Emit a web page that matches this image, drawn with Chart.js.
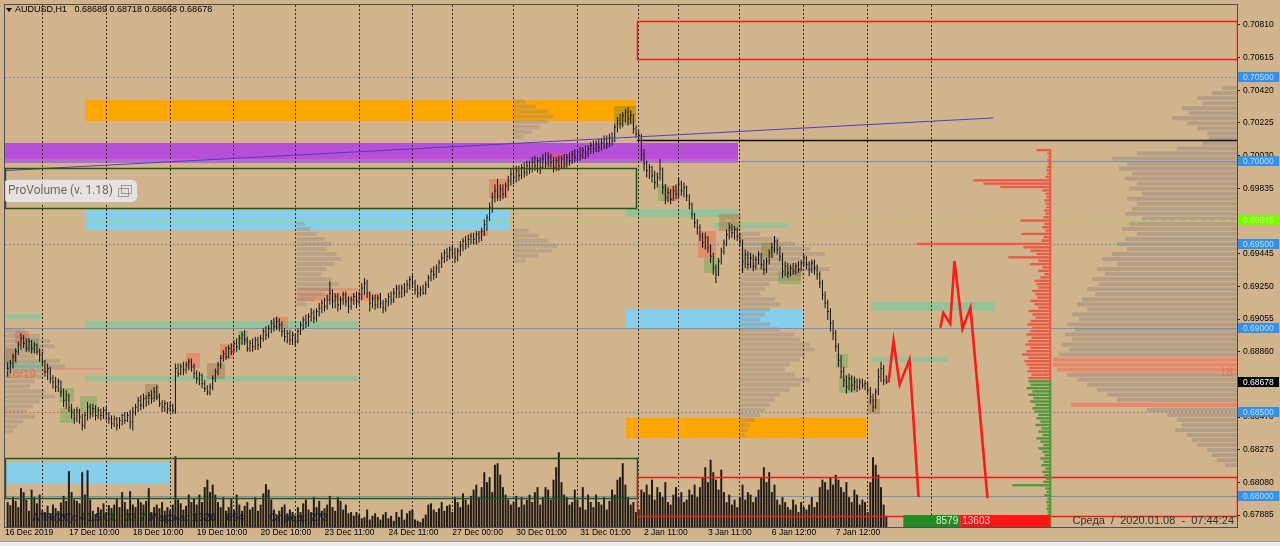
<!DOCTYPE html>
<html>
<head>
<meta charset="utf-8">
<script src="https://cdn.jsdelivr.net/npm/chart.js@4.4.1/dist/chart.umd.min.js"></script>
<style>
  html, body { margin:0; padding:0; background:#D2B48C; overflow:hidden; }
  canvas { display:block; }
</style>
</head>
<body>
<canvas id="chart" width="1280" height="546"></canvas>
<script>
// ===== DATA (prices in pips: 6866 = 0.68660) =====
const symbolTitle = 'AUDUSD,H1';
const lastOpen = 6868.9;

const closes = [
6876,6879,6883,6886,6890,6894,6891,6888,6892,6888,
6890,6886,6884,6880,6874,6876,6870,6868,6865,6868,
6862,6857,6860,6853,6850,6846,6851,6847,6842,6848,
6853,6849,6852,6848,6851,6848,6851,6849,6846,6843,
6846,6842,6845,6848,6845,6848,6844,6850,6853,6857,
6854,6858,6856,6860,6858,6862,6859,6855,6853,6855,
6852,6854,6851,6876,6873,6877,6875,6878,6880,6877,
6873,6870,6872,6867,6864,6862,6865,6870,6874,6878,
6882,6885,6883,6888,6886,6891,6889,6894,6896,6893,
6888,6891,6889,6893,6890,6894,6898,6896,6900,6903,
6901,6904,6902,6898,6895,6897,6893,6896,6892,6898,
6902,6905,6903,6907,6909,6906,6910,6912,6915,6913,
6917,6921,6916,6919,6914,6917,6920,6916,6913,6917,
6919,6916,6920,6924,6927,6921,6915,6918,6914,6918,
6915,6912,6916,6919,6917,6921,6924,6921,6924,6922,
6926,6929,6927,6923,6921,6923,6921,6926,6930,6934,
6932,6936,6939,6942,6945,6943,6947,6945,6942,6946,
6949,6952,6950,6953,6955,6953,6956,6954,6958,6962,
6966,6972,6978,6982,6979,6983,6980,6985,6988,6992,
6990,6994,6991,6996,6993,6997,6995,6999,6997,7000,
6996,7001,6998,7002,6999,6996,7000,6997,7001,6998,
7002,7000,7004,7002,7005,7003,7006,7004,7007,7009,
7007,7010,7008,7011,7013,7010,7014,7012,7020,7024,
7022,7027,7029,7025,7027,7019,7016,7015,7004,6998,
6994,6996,6991,6987,6990,6995,6984,6978,6981,6977,
6982,6980,6986,6982,6984,6979,6974,6968,6963,6960,
6955,6951,6954,6948,6943,6936,6932,6940,6946,6951,
6956,6960,6957,6959,6955,6952,6940,6944,6938,6942,
6937,6941,6944,6938,6935,6940,6945,6948,6952,6947,
6943,6934,6937,6933,6936,6934,6937,6935,6939,6942,
6938,6935,6939,6936,6932,6927,6920,6915,6910,6903,
6897,6889,6881,6874,6869,6865,6870,6866,6868,6865,
6868,6866,6867,6863,6859,6853,6862,6871,6876,6869,
6867.8];

const highs = [
6880,6881,6885,6888,6892,6897,6896,6894,6894,6893,
6892,6891,6888,6886,6881,6879,6877,6872,6871,6870,
6869,6864,6863,6861,6855,6852,6853,6852,6849,6850,
6856,6855,6855,6854,6853,6852,6853,6853,6850,6848,
6848,6847,6847,6849,6850,6850,6851,6853,6855,6859,
6860,6861,6860,6862,6863,6865,6866,6861,6857,6857,
6856,6856,6855,6879,6879,6879,6880,6880,6882,6882,
6879,6875,6874,6873,6869,6866,6867,6872,6876,6880,
6884,6887,6889,6890,6891,6893,6894,6896,6898,6899,
6895,6893,6894,6895,6895,6896,6900,6901,6902,6905,
6906,6907,6906,6904,6900,6899,6899,6898,6897,6900,
6904,6907,6908,6909,6912,6911,6912,6915,6917,6918,
6920,6928,6923,6921,6921,6919,6922,6922,6919,6919,
6921,6922,6922,6927,6930,6929,6922,6920,6920,6920,
6921,6917,6918,6921,6922,6924,6926,6926,6926,6927,
6929,6931,6932,6929,6926,6925,6926,6928,6932,6936,
6937,6938,6941,6945,6947,6948,6949,6950,6948,6948,
6952,6954,6955,6956,6957,6957,6958,6958,6960,6965,
6968,6975,6981,6986,6989,6986,6986,6987,6991,6995,
6996,6997,6997,6998,6999,7000,7000,7002,7003,7002,
7002,7004,7005,7005,7004,7002,7002,7003,7003,7004,
7004,7005,7006,7007,7007,7008,7008,7009,7009,7011,
7012,7012,7013,7013,7015,7015,7016,7017,7022,7026,
7028,7029,7031,7032,7030,7028,7021,7018,7016,7007,
7000,6998,6997,6994,6993,7001,6996,6986,6984,6983,
6985,6986,6990,6988,6987,6985,6980,6975,6969,6965,
6962,6957,6957,6955,6950,6945,6938,6942,6948,6953,
6959,6963,6962,6961,6960,6957,6953,6947,6946,6945,
6944,6943,6946,6945,6941,6942,6947,6951,6955,6953,
6949,6945,6940,6939,6938,6939,6939,6940,6941,6944,
6943,6940,6941,6941,6938,6934,6929,6922,6917,6912,
6905,6899,6891,6884,6877,6872,6873,6872,6871,6870,
6870,6870,6869,6868,6865,6861,6864,6876,6880,6878,
6871.8];

const lows = [
6871,6873,6876,6880,6884,6887,6888,6886,6886,6885,
6885,6884,6880,6878,6871,6869,6867,6864,6862,6862,
6859,6853,6852,6850,6846,6843,6844,6843,6839,6840,
6845,6846,6847,6845,6846,6845,6846,6845,6843,6840,
6841,6839,6840,6842,6843,6844,6840,6839,6848,6850,
6851,6852,6853,6854,6855,6856,6857,6853,6850,6850,
6849,6850,6849,6849,6871,6872,6872,6873,6875,6874,
6870,6867,6866,6864,6862,6860,6860,6863,6868,6872,
6876,6880,6881,6882,6884,6885,6886,6887,6890,6890,
6886,6886,6886,6887,6887,6888,6892,6893,6894,6897,
6898,6899,6898,6895,6892,6891,6890,6890,6889,6891,
6896,6899,6900,6901,6904,6903,6904,6907,6909,6910,
6911,6914,6912,6912,6910,6911,6914,6913,6909,6911,
6914,6912,6914,6917,6920,6918,6910,6912,6911,6912,
6912,6909,6910,6913,6914,6915,6918,6918,6918,6919,
6921,6923,6924,6920,6918,6919,6920,6920,6924,6928,
6929,6930,6933,6936,6939,6940,6941,6942,6939,6940,
6943,6946,6947,6948,6950,6950,6950,6951,6952,6955,
6958,6964,6969,6975,6976,6976,6977,6978,6982,6985,
6986,6987,6988,6989,6990,6991,6992,6993,6994,6993,
6992,6995,6995,6996,6996,6993,6994,6994,6995,6995,
6996,6997,6998,6999,6999,7000,7001,7001,7002,7004,
7004,7005,7005,7006,7007,7007,7008,7009,7011,7017,
7019,7020,7023,7021,7022,7016,7014,7012,7000,6994,
6990,6989,6987,6983,6984,6988,6980,6974,6975,6974,
6976,6977,6978,6979,6978,6976,6971,6965,6960,6956,
6952,6948,6947,6945,6939,6932,6927,6931,6938,6944,
6949,6953,6954,6953,6952,6949,6933,6936,6935,6936,
6934,6935,6938,6935,6932,6933,6938,6942,6945,6944,
6940,6930,6931,6930,6931,6932,6932,6933,6934,6937,
6935,6931,6933,6932,6929,6924,6917,6912,6905,6898,
6893,6886,6877,6870,6865,6861,6863,6862,6863,6862,
6863,6864,6863,6860,6855,6850,6852,6860,6868,6866,
6866.8];

const volumes = [
1000,880,1200,1050,800,1560,1400,1100,650,1500,
1200,950,1300,700,600,850,520,900,760,640,
980,1250,1050,2240,1400,1100,1050,950,2200,1300,
2280,1100,650,520,800,700,950,600,880,760,
900,1150,800,1400,1000,720,1440,900,800,1150,
1000,900,1050,1560,600,800,900,750,1000,650,
800,700,900,2840,1100,950,700,850,1300,1000,
1150,900,1300,1000,1600,1900,1400,1700,1300,1000,
800,1200,650,800,1150,700,1300,900,650,850,
1000,700,800,1200,650,900,1350,1720,1500,1100,
700,500,650,800,900,550,700,600,450,800,
600,950,1100,700,600,1200,800,1050,650,750,
900,1250,800,650,1200,1050,700,900,550,600,
450,600,500,350,400,700,300,450,550,400,
300,500,600,350,450,250,600,400,700,300,
550,650,700,300,250,200,350,500,900,950,
700,600,750,1000,650,850,900,600,1200,1000,
800,1350,1100,900,1250,1500,1700,1200,1600,2200,
1800,2000,1400,2500,2560,2100,1600,1300,1100,900,
1000,1250,800,1200,900,1100,1300,1000,1400,1600,
900,1200,1600,1500,1100,1900,2400,3000,1800,1300,
1200,900,1000,1500,1100,800,1600,700,1300,1000,
800,1300,1000,900,1200,700,1050,1500,1300,1900,
2000,2560,1700,1200,900,1000,600,700,1500,1400,
1700,1300,1900,1100,1600,1400,1200,1800,1000,900,
1300,1600,1200,1400,1000,1100,1500,1300,1700,1200,
1600,2000,2400,1800,2700,2200,1900,1500,2300,1400,
1000,1300,900,1100,800,1200,1700,1100,1400,1300,
1000,1200,1500,2000,2400,1800,2200,1400,1700,1100,
900,1200,1000,800,700,1100,900,600,1000,800,
700,900,1200,800,1000,1600,1900,1800,1500,2000,
1700,2100,1900,1600,1400,1800,1200,1000,1500,1300,
900,1100,1000,600,1800,2800,2500,2100,1600,900,
450];

const xLabelBars = [-1,23,47,71,95,119,143,167,191,215,239,263,287,311];
const xLabels = ['16 Dec 2019','17 Dec 10:00','18 Dec 10:00','19 Dec 10:00','20 Dec 10:00','23 Dec 11:00','24 Dec 11:00','27 Dec 00:00','30 Dec 01:00','31 Dec 01:00','2 Jan 11:00','3 Jan 11:00','6 Jan 12:00','7 Jan 12:00'];
const daySeparators = [13,37,61,85,108,132,152,167,190,214,237,252,275,299,323,347];
const priceTicks = [6788.5,6808.0,6827.5,6847.0,6866.5,6886.0,6905.5,6925.0,6944.5,6964.0,6983.5,7003.0,7022.5,7042.0,7061.5,7081.0];

const roundLevels = [7000, 6900, 6800];
const halfLevels = [7050, 6950, 6850];
const greenLevel = 6964.5;
const blackLevel = [236.3, 7012.6];              // [from bar, price]
const trendLine = [[-1, 6994.1], [370.2, 7025.5]];
const forecastA = [[330.8,6867.6],[332.7,6892.5],[335,6866.4],[338.7,6881.2],[342.1,6799.2]];
const forecastB = [[350.3,6900.3],[351.4,6909.2],[354,6902.7],[355.6,6940.1],[358.6,6899.7],[361.6,6912.2],[368,6798.6]];

// zones: [fromBar, toBar (null = right edge), topPrice, bottomPrice]
const orangeZones = [[29,236,7036.4,7023.9],[232.2,323,6846.2,6834.3]];
const purpleZones = [[-1,274.2,7010.8,6998.4]];
const pinkBands   = [[-1,274.2,7001.2,6998.4]];
const skyZones    = [[29,188.7,6970.4,6958.5],[232.2,299,6911.6,6900.3],[-1,60.5,6820,6806.9]];
const tealZones   = [[232.2,274.2,6971,6966.3],[-1,12.9,6908.6,6905.6],[29,131.7,6904.4,6899.7],[324.1,371,6915.7,6910.4],[324.1,353,6883,6880],[29,131.7,6871.7,6868.8],[-1,13,6880,6875],[265.2,293,6962.7,6959.7]];
const greenBoxes  = [[-1,236,6995.4,6971.6],[-1,236.3,6822.4,6798.6]];
const redBoxes    = [[236.3,null,7083.4,7060.8],[236.3,null,6811.1,6787.9]];

const hlRed   = [[2.7,8,6898.5,6890.8],[66.9,72.1,6885.4,6876.5],[79.6,84.9,6890.8,6881.8],[99.5,105.1,6906.8,6900.3],[176.7,180.5,6957.9,6954.9],[180.9,188,6988.9,6977.6],[203,210.5,7004.3,6994.8],[246.1,252.1,6984.7,6975.8],[259.2,266,6957.9,6941.9],[293,297.8,6936,6928.2]];
const hlGreen = [[6.5,11.7,6894.3,6886.6],[19.2,24.9,6864.6,6855.7],[19.6,24.9,6852.7,6843.2],[27.1,33.5,6859.8,6849.7],[86.4,90.1,6898.5,6890.8],[244.2,248,6985.9,6975.8],[261.5,266.7,6941.9,6932.9],[289.2,297.8,6934.2,6926.4],[311,315.5,6884.8,6876.5],[312.1,318.5,6871.7,6861.6]];
const hlBrown = [[-1,3.5,6888.4,6878.9],[51.5,56.7,6867,6858],[74.7,81.5,6879.5,6870],[267.1,275.4,6968,6957.9],[323.3,327.8,6858,6849]];
const hlOlive = [[227.7,236,7032.8,7021.5],[282.8,287.7,6950.8,6941.9]];
const hlStripes = [[108.5,140,6921,6916.3],[108.5,131.7,6924,6922],[13,36,6876.5,6875.3]];
const redDotted = [[-1,36.5,6850]];

// daily volume profiles (anchor bar, top price, 3-pip bins)
const ghostBars = [-1, 108.5, 190, 190, 275];
const ghostTops = [6898, 6962, 7035, 6958, 6956];
const ghostVols = [
  [20,35,45,50,40,30,55,60,45,38,30,25,40,50,35,28,22,30,18,12,8],
  [8,14,20,28,35,30,40,45,38,30,25,35,42,36,28,18,10],
  [12,22,35,40,34,26,18,10],
  [15,25,35,44,38,25,12],
  [20,40,55,70,85,60,75,90,65,50,30,25,20,35,40,30,25,20,30,40,55,60,70,75,65,60,50,45,55,70,60,50,40,35,30,25,20,15,10,8,5]
];
// whole-range profile at the right edge (3-pip bins from top)
const rightProfileTop = 7043;
const rightProfile = [
15,25,40,35,55,48,65,50,40,30,
28,35,60,100,125,110,118,105,112,100,
108,95,110,100,105,112,95,108,115,100,
112,120,110,125,135,120,140,132,145,138,
150,142,155,160,150,165,158,170,162,172,
165,175,168,178,184,184,180,170,160,150,
140,130,120,166,90,70,60,55,62,50,
45,40,30,25,20,12];
const rightProfilePOC = [6881, 6878, 6875, 6854];
// delta profile (2-pip bins), anchored at bar 391.6
const deltaAnchorBar = 391.6;
const deltaSellTop = 7006;
const deltaSell = [14,3,2,3,2,3,4,3,5,77, 67,50,8,5,4,6,5,4,6,5, 7,30,6,8,5,29,7,9,134,27, 20,14,42,12,20,8,12,6,10,16, 14,12,18,15,13,20,16,12,22,18, 15,20,23,18,20,24,19,22,25,20, 24,28,22,26,24,21,23,19,22];
const deltaBuyTop = 6868;
const deltaBuy = [22,20,24,18,22,17,20,15,18,16, 12,14,10,15,9,12,8,14,10,7, 12,8,6,10,7,9,5,8,6,4, 7,38,5,4,6,3,4,3,4,3, 3];
const buySell = [8579, 13603];
const serverTime = 'Среда  /  2020.01.08  -  07:44:24';

// ===== CHART =====
const X_MIN = -1, X_MAX = 461.7, Y_MIN = 6781.4, Y_MAX = 7092.9, VOL_MAX = 20960;
const FONT = '"Liberation Sans", Arial, sans-serif';
const labelMap = new Map(xLabelBars.map((b, k) => [b, xLabels[k]]));
const sepSet = new Set(daySeparators);
const xTickValues = Array.from(new Set([...xLabelBars, ...daySeparators])).sort((a, b) => a - b);
const fmt = v => (v / 10000).toFixed(5);
const barIdx = closes.map((_, i) => i);

const xp = (c, b) => (b === null ? c.chartArea.right : c.scales.x.getPixelForValue(b));
const yp = (c, p) => c.scales.y.getPixelForValue(p);

function fillZone(c, z, color) {
  const g = c.ctx;
  const x0 = Math.round(xp(c, z[0])), x1 = Math.round(xp(c, z[1]));
  const y0 = Math.round(yp(c, z[2])), y1 = Math.round(yp(c, z[3]));
  g.fillStyle = color;
  g.fillRect(x0, y0, x1 - x0, y1 - y0);
}
function strokeZone(c, z, color, lw) {
  const g = c.ctx;
  const x0 = Math.round(xp(c, z[0])) + 0.5, x1 = Math.round(xp(c, z[1])) + 0.5;
  const y0 = Math.round(yp(c, z[2])) + 0.5, y1 = Math.round(yp(c, z[3])) + 0.5;
  g.strokeStyle = color; g.lineWidth = lw;
  g.strokeRect(x0, y0, x1 - x0, y1 - y0);
}
function hLine(c, p, b0, b1, color, lw, dash) {
  const g = c.ctx;
  const y = Math.round(yp(c, p)) + 0.5;
  g.save();
  g.strokeStyle = color; g.lineWidth = lw; g.setLineDash(dash || []);
  g.beginPath(); g.moveTo(xp(c, b0), y); g.lineTo(xp(c, b1), y); g.stroke();
  g.restore();
}
function drawProfile(c, anchorX, top, step, vols, dir, color, gap, pocList, pocColor) {
  const g = c.ctx;
  vols.forEach((v, k) => {
    const price = top - k * step;
    const y0 = yp(c, price + step / 2), y1 = yp(c, price - step / 2);
    const h = Math.max(1, (y1 - y0) - gap);
    g.fillStyle = (pocList && pocList.includes(price)) ? pocColor : color;
    if (dir > 0) g.fillRect(anchorX, y0, v, h); else g.fillRect(anchorX - v, y0, v, h);
  });
}

const overlay = {
  id: 'mt4overlay',
  beforeDraw(c) {
    const g = c.ctx, a = c.chartArea;
    g.save();
    g.fillStyle = '#D2B48C';
    g.fillRect(0, 0, c.width, c.height);
    g.beginPath(); g.rect(a.left, a.top, a.right - a.left, a.bottom - a.top); g.clip();

    orangeZones.forEach(z => fillZone(c, z, '#FFA500'));
    purpleZones.forEach(z => fillZone(c, z, '#B84FD8'));
    pinkBands.forEach(z => fillZone(c, z, 'rgba(235,110,190,0.45)'));
    skyZones.forEach(z => fillZone(c, z, '#87CEEB'));
    tealZones.forEach(z => fillZone(c, z, 'rgba(100,205,165,0.55)'));

    hlRed.forEach(z => fillZone(c, z, 'rgba(240,90,70,0.42)'));
    hlGreen.forEach(z => fillZone(c, z, 'rgba(100,170,80,0.45)'));
    hlBrown.forEach(z => fillZone(c, z, 'rgba(160,115,70,0.45)'));
    hlOlive.forEach(z => fillZone(c, z, 'rgba(140,140,40,0.5)'));
    hlStripes.forEach(z => fillZone(c, z, 'rgba(240,110,90,0.45)'));

    ghostVols.forEach((vols, k) => drawProfile(c, xp(c, ghostBars[k]), ghostTops[k], 3, vols, 1, 'rgba(140,128,120,0.35)', 1));
    drawProfile(c, a.right, rightProfileTop, 3, rightProfile, -1, 'rgba(150,138,128,0.5)', 1, rightProfilePOC, 'rgba(240,120,95,0.75)');

    roundLevels.forEach(p => hLine(c, p, X_MIN, X_MAX, '#6F93C4', 1));
    halfLevels.forEach(p => hLine(c, p, X_MIN, X_MAX, '#7A8FAE', 1, [2, 2]));
    redDotted.forEach(r => hLine(c, r[2], r[0], r[1], '#E0604A', 1, [2, 2]));
    hLine(c, greenLevel, X_MIN, X_MAX, '#A6DB3A', 1, [6, 4]);

    g.textBaseline = 'middle';
    g.font = 'bold 11px ' + FONT;
    g.fillStyle = '#1B3F8A';
    g.fillText('ATR(20): 41.5', 32, 518);
    g.fillStyle = '#2E7D32';
    g.fillText('CL: 33.7', 103, 518);
    g.fillStyle = '#1B3F8A';
    g.fillText('Маржа: 1320 : 694', 149, 518);
    g.fillText('Спред: 273', 269, 518);
    g.restore();
  },
  afterDatasetsDraw(c) {
    const g = c.ctx, a = c.chartArea;
    g.save();
    g.beginPath(); g.rect(a.left, a.top, a.right - a.left, a.bottom - a.top); g.clip();

    greenBoxes.forEach(z => strokeZone(c, z, '#1F5A10', 1.5));
    redBoxes.forEach(z => strokeZone(c, z, '#F01818', 1.5));
    hLine(c, blackLevel[1], blackLevel[0], X_MAX, '#111', 1.5);

    const ax = xp(c, deltaAnchorBar);
    drawProfile(c, ax, deltaSellTop, 2, deltaSell, -1, '#EC5A45', 1);
    drawProfile(c, ax, deltaBuyTop, 2, deltaBuy, -1, '#4E9A3A', 1);
    g.fillStyle = '#EC5A45'; g.fillRect(ax - 1, yp(c, deltaSellTop + 1), 2, yp(c, deltaBuyTop + 1) - yp(c, deltaSellTop + 1));
    g.fillStyle = '#4E9A3A'; g.fillRect(ax - 1, yp(c, deltaBuyTop + 1), 2, a.bottom - yp(c, deltaBuyTop + 1));

    const total = buySell[0] + buySell[1];
    const span = 147;
    const gw = span * buySell[0] / total;
    const by = a.bottom - 12;
    g.fillStyle = '#228B22'; g.fillRect(ax - span, by, gw, 12);
    g.fillStyle = '#FF1414'; g.fillRect(ax - span + gw, by, span - gw, 12);
    g.font = '10px ' + FONT; g.textBaseline = 'middle';
    g.fillStyle = '#D8EED8'; g.textAlign = 'right'; g.fillText(String(buySell[0]), ax - span + gw - 2, by + 6);
    g.fillStyle = '#FFC8C8'; g.textAlign = 'left'; g.fillText(String(buySell[1]), ax - span + gw + 2, by + 6);

    g.font = '11px ' + FONT; g.fillStyle = '#333'; g.textAlign = 'right';
    g.fillText(serverTime, a.right - 3, by + 6);
    g.textAlign = 'left';
    g.font = '12px ' + FONT; g.fillStyle = '#E8704A';
    g.fillText('16/19', 6, 375);
    g.textAlign = 'right'; g.fillStyle = '#E07A5A';
    g.fillText('18', 1233, 373);
    g.restore();

    g.save();
    g.fillStyle = 'rgba(232,232,232,0.88)';
    g.strokeStyle = 'rgba(190,190,190,0.9)';
    g.lineWidth = 1;
    g.beginPath(); g.roundRect(3.5, 179.5, 134, 23, 6); g.fill(); g.stroke();
    g.font = '12px Roboto, ' + FONT; g.fillStyle = '#6a6a6a'; g.textBaseline = 'middle'; g.textAlign = 'left';
    g.fillText('ProVolume (v. 1.18)', 8, 191);
    g.strokeStyle = '#9a9a9a';
    g.strokeRect(121.5, 185.5, 10, 8);
    g.strokeRect(118.5, 188.5, 10, 8);
    g.restore();
  },
  afterDraw(c) {
    const g = c.ctx, a = c.chartArea;
    g.save();
    g.strokeStyle = '#4f4f4f'; g.lineWidth = 1;
    g.strokeRect(a.left - 0.5, a.top - 0.5, a.right - a.left + 1, a.bottom - a.top + 1);
    g.font = '8.5px ' + FONT; g.textBaseline = 'middle'; g.textAlign = 'left';
    const box = (p, bg, fg, txt) => {
      const y = Math.round(yp(c, p));
      g.fillStyle = bg; g.fillRect(a.right + 1, y - 5, 41, 10);
      g.fillStyle = fg; g.fillText(txt, a.right + 6, y + 0.5);
    };
    [...roundLevels, ...halfLevels].forEach(p => box(p, '#3590E6', '#B8DEFF', fmt(p)));
    box(greenLevel, '#7CFC00', '#B6FF6A', fmt(greenLevel));
    box(closes[closes.length - 1], '#000', '#fff', fmt(closes[closes.length - 1]));
    g.fillStyle = '#000';
    g.beginPath(); g.moveTo(6, 8); g.lineTo(12, 8); g.lineTo(9, 12); g.closePath(); g.fill();
    g.font = '9px ' + FONT;
    const last = closes.length - 1;
    g.fillText(symbolTitle + '   ' + [lastOpen, highs[last], lows[last], closes[last]].map(fmt).join(' '), 15, 10);
    g.fillStyle = '#ECECEC'; g.fillRect(0, 542, c.width, 4);
    g.fillStyle = '#9a9a9a'; g.fillRect(0, 541, c.width, 1);
    g.restore();
  }
};

new Chart(document.getElementById('chart'), {
  type: 'bar',
  data: {
    datasets: [
      { type: 'line', label: 'forecast A', data: forecastA.map(([b, p]) => ({ x: b, y: p })), borderColor: '#FF1A1A', borderWidth: 2.6, pointRadius: 0, tension: 0, yAxisID: 'y', order: 1 },
      { type: 'line', label: 'forecast B', data: forecastB.map(([b, p]) => ({ x: b, y: p })), borderColor: '#FF1A1A', borderWidth: 2.6, pointRadius: 0, tension: 0, yAxisID: 'y', order: 1 },
      { type: 'line', label: 'trend', data: trendLine.map(([b, p]) => ({ x: b, y: p })), borderColor: '#4C3DCC', borderWidth: 1, pointRadius: 0, tension: 0, yAxisID: 'y', order: 2 },
      { type: 'scatter', label: 'close', data: barIdx.map(i => ({ x: i, y: closes[i] })), pointStyle: 'dash', pointRadius: 1.2, borderColor: '#111', backgroundColor: '#111', borderWidth: 1, yAxisID: 'y', order: 3 },
      { type: 'bar', label: 'range', data: barIdx.map(i => ({ x: i, y: [lows[i], highs[i]] })), backgroundColor: '#111', barThickness: 1, inflateAmount: 0, grouped: false, yAxisID: 'y', order: 4 },
      { type: 'bar', label: 'volume', data: barIdx.map(i => ({ x: i, y: volumes[i] })), backgroundColor: '#221c15', barThickness: 2, inflateAmount: 0, grouped: false, yAxisID: 'yv', order: 5 }
    ]
  },
  options: {
    responsive: false,
    animation: false,
    devicePixelRatio: 1,
    events: [],
    layout: { padding: { left: 3, top: 3, right: 0, bottom: 0 } },
    plugins: { legend: { display: false }, tooltip: { enabled: false } },
    scales: {
      x: {
        type: 'linear', min: X_MIN, max: X_MAX, offset: false,
        grid: { offset: false, drawTicks: false, lineWidth: 1,
          color: ctx => (ctx.tick && sepSet.has(ctx.tick.value)) ? 'rgba(40,30,20,0.9)' : 'rgba(0,0,0,0)' },
        border: { display: false, dash: [2, 2] },
        ticks: { autoSkip: false, maxRotation: 0, minRotation: 0, align: 'start', padding: 1, color: '#000',
          font: { family: FONT, size: 8.5 }, callback: v => labelMap.has(v) ? labelMap.get(v) : '' },
        afterBuildTicks: s => { s.ticks = xTickValues.map(v => ({ value: v })); },
        afterFit: s => { s.height = 19; s.paddingLeft = 0; s.paddingRight = 0; }
      },
      y: {
        type: 'linear', position: 'right', min: Y_MIN, max: Y_MAX, beginAtZero: false,
        grid: { drawOnChartArea: false, drawTicks: true, tickLength: 3, color: '#222' },
        border: { display: true, color: '#4f4f4f' },
        ticks: { autoSkip: false, padding: 3, color: '#000', font: { family: FONT, size: 8.5 }, callback: v => fmt(v) },
        afterBuildTicks: s => { s.ticks = priceTicks.map(v => ({ value: v })); },
        afterFit: s => { s.width = 43; s.paddingTop = 0; s.paddingBottom = 0; }
      },
      yv: { type: 'linear', display: false, min: 0, max: VOL_MAX }
    }
  },
  plugins: [overlay]
});
</script>
</body>
</html>
